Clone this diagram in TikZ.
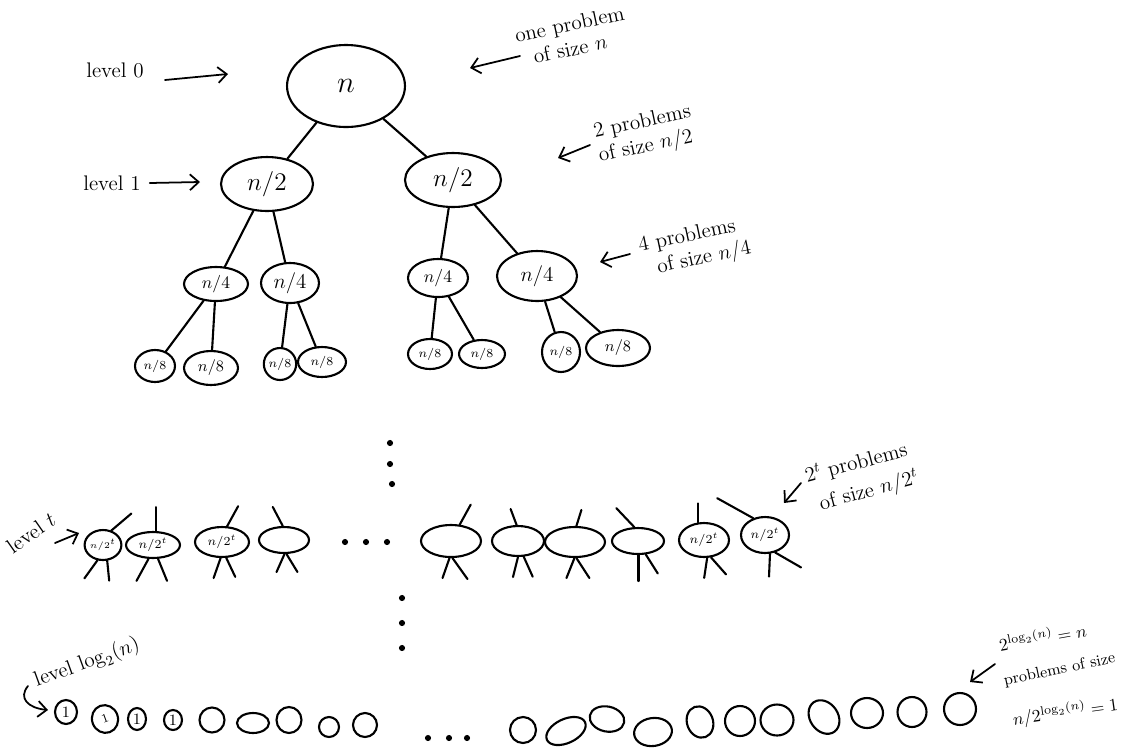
\documentclass[tikz,border=0pt]{standalone}
\usetikzlibrary{shapes.geometric,arrows.meta}
\begin{document}
\begin{tikzpicture}[x=0.02cm,y=-0.02cm,line width=1.2pt,line cap=round,
  el/.style 2 args={ellipse,draw,inner sep=0pt,minimum width=#1*0.04cm,minimum height=#2*0.04cm},
  arr/.style={-{Straight Barb[length=5pt,width=9pt]},line width=1pt},
  lab/.style={align=left,font=\large,inner sep=0pt},
  dot/.style={circle,fill,inner sep=0pt,minimum size=3.5pt}]
\useasboundingbox (0,0) rectangle (1125,748);

% level 0 and 1
\node[el={59}{41}] (r) at (346,86) {\LARGE $n$};
\node[el={46}{27}] (a) at (267,184) {\Large $n/2$};
\node[el={48}{27}] (b) at (453,180) {\Large $n/2$};
\draw (r) -- (a);
\draw (r) -- (b);

% level 2
\node[el={32}{17}] (aa) at (216,284) {$n/4$};
\node[el={29}{20}] (ab) at (290,283) {\large $n/4$};
\node[el={30}{19}] (ba) at (438,278) {$n/4$};
\node[el={40}{25}] (bb) at (537,276) {\large $n/4$};
\draw (a) -- (aa); \draw (a) -- (ab);
\draw (b) -- (ba); \draw (b) -- (bb);

% level 3
\node[el={20}{16}] (aaa) at (155,366) {\scriptsize $n/8$};
\node[el={27}{17}] (aab) at (211,368) {\small $n/8$};
\node[el={14}{16}] (aba) at (280,364) {\scriptsize $n/8$};
\node[el={24}{15}] (abb) at (322,362) {\scriptsize $n/8$};
\node[el={22}{15}] (baa) at (430,354) {\scriptsize $n/8$};
\node[el={23}{14}] (bab) at (482,354) {\scriptsize $n/8$};
\node[el={19}{20}] (bba) at (561,352) {\scriptsize $n/8$};
\node[el={32}{18}] (bbb) at (618,348) {\small $n/8$};
\draw (aa) -- (aaa); \draw (aa) -- (aab);
\draw (ab) -- (aba); \draw (ab) -- (abb);
\draw (ba) -- (baa); \draw (ba) -- (bab);
\draw (bb) -- (bba); \draw (bb) -- (bbb);

% labels top
\node[lab] (lv0) at (115,70) {level 0};
\coordinate (lv0t) at (228,74);
\draw[arr] (165,80) -- (lv0t);
\node[lab] (lv1) at (112,183) {level 1};
\coordinate (lv1t) at (200,182);
\draw[arr] (lv1.east) ++(8,0) -- (lv1t);

\node[lab,rotate=12] (t0) at (572,36) {one problem\\ \ \ of size $n$};
\coordinate (t0t) at (470,68);
\draw[arr] (520,56) -- (t0t);
\node[lab,rotate=12] (t1) at (645,135) {2 problems\\ of size $n/2$};
\coordinate (t1t) at (558,158);
\draw[arr] (590,145) -- (t1t);
\node[lab,rotate=12] (t2) at (695,248) {4 problems\\ \ \ of size $n/4$};
\coordinate (t2t) at (600,262);
\draw[arr] (630,254) -- (t2t);

% vertical dots
\node[dot] (v1) at (390,443) {};
\node[dot] (v2) at (390,464) {};
\node[dot] (v3) at (392,484) {};

% level t
\node[el={16}{15}] (u1) at (103,545) {\tiny $n/2^t$};
\node[el={27}{13}] (u2) at (153,545) {\scriptsize $n/2^t$};
\node[el={27}{15}] (u3) at (222,542) {\scriptsize $n/2^t$};
\node[el={25}{13}] (u4) at (284,540) {};
\node[dot] (h1) at (345,542) {};
\node[dot] (h2) at (366,542) {};
\node[dot] (h3) at (387,542) {};
\node[el={30}{16}] (u5) at (451,541) {};
\node[el={26}{15}] (u6) at (518,541) {};
\node[el={30}{15}] (u7) at (575,542) {};
\node[el={26}{13}] (u8) at (638,541) {};
\node[el={25}{17}] (u9) at (704,540) {\scriptsize $n/2^t$};
\node[el={24}{18}] (u10) at (765,535) {\scriptsize $n/2^t$};

\draw (u1.60) -- ++(20,-17); \draw (u1.250) -- ++(-13,18); \draw (u1.285) -- ++(2,20);
\draw (u2.78) -- ++(0,-24); \draw (u2.252) -- ++(-12,22); \draw (u2.290) -- ++(9,22);
\draw (u3.72) -- ++(11,-20); \draw (u3.265) -- ++(-7,20); \draw (u3.285) -- ++(9,19);
\draw (u4.95) -- ++(-10,-19); \draw (u4.272) -- ++(-8,18); \draw (u4.280) -- ++(11,18);
\draw (u5.62) -- ++(11,-20); \draw (u5.265) -- ++(-7,20); \draw (u5.275) -- ++(15,21);
\draw (u6.95) -- ++(-6,-16); \draw (u6.270) -- ++(-5,20); \draw (u6.290) -- ++(9,20);
\draw (u7.85) -- ++(5,-16); \draw (u7.268) -- ++(-8,20); \draw (u7.275) -- ++(13,20);
\draw (u8.105) -- ++(-18,-19); \draw (u8.272) -- ++(0,26); \draw (u8.300) -- ++(12,19);
\draw (u9.108) -- ++(0,-19); \draw (u9.280) -- ++(-3,20); \draw (u9.292) -- ++(15,17);
\draw (u10.125) -- ++(-36,-20); \draw (u10.285) -- ++(-1,23); \draw (u10.300) -- ++(26,15);

\node[lab,rotate=35] (lvt) at (31,533) {level $t$};
\coordinate (lvtt) at (79,533);
\draw[arr] (55,543) -- (lvtt);
\node[lab,rotate=15] (tt) at (862,478) {$2^t$ problems\\[3pt] \ of size $n/2^t$};
\coordinate (ttt) at (784,503);
\draw[arr] (801,483) -- (ttt);

% vertical dots lower
\node[dot] (w1) at (402,598) {};
\node[dot] (w2) at (402,623) {};
\node[dot] (w3) at (402,648) {};

% bottom level
\node[el={11}{12}] (z1) at (66,712) {\small $1$};
\node[el={13}{14},rotate=20] (z2) at (105,719) {\scriptsize $1$};
\node[el={9}{11}] (z3) at (137,719) {\small $1$};
\node[el={9}{10}] (z4) at (173,720) {\small $1$};
\node[el={12.5}{12.5}] (z5) at (212,720) {};
\node[el={16}{10}] (z6) at (253,723) {};
\node[el={12.5}{13}] (z7) at (289,720) {};
\node[el={10}{10}] (z8) at (329,727) {};
\node[el={12}{12}] (z9) at (365,725) {};
\node[dot] (d1) at (428,738) {};
\node[dot] (d2) at (449,738) {};
\node[dot] (d3) at (467,738) {};
\node[el={13}{13}] (z10) at (523,730) {};
\node[el={21}{12},rotate=25] (z11) at (566,731) {};
\node[el={17.5}{12.5},rotate=-12] (z12) at (607,719) {};
\node[el={19}{14},rotate=8] (z13) at (653,732) {};
\node[el={13}{16},rotate=20] (z14) at (700,722) {};
\node[el={15}{15}] (z15) at (740,721) {};
\node[el={16.5}{15.5}] (z16) at (777,720) {};
\node[el={14}{18},rotate=35] (z17) at (824,717) {};
\node[el={16}{15}] (z18) at (867,713) {};
\node[el={14.5}{15}] (z19) at (912,712) {};
\node[el={16}{16}] (z20) at (960,709) {};

\node[lab,rotate=20] (lvl) at (87,663) {level $\log_2(n)$};
\coordinate (lvlt) at (48,710);
\draw[arr] (28,686) .. controls (18,698) and (28,708) .. (lvlt);

\node[lab,rotate=10,anchor=west,font=\normalsize] (bt1) at (998,644) {$2^{\log_2(n)} = n$};
\node[lab,rotate=12,anchor=west,font=\small] (bt2) at (1003,682) {problems of size};
\node[lab,rotate=8,anchor=west,font=\normalsize] (bt3) at (1012,720) {$n/2^{\log_2(n)} = 1$};
\coordinate (btt) at (970,682);
\draw[arr] (995,664) -- (btt);
\end{tikzpicture}
\end{document}
